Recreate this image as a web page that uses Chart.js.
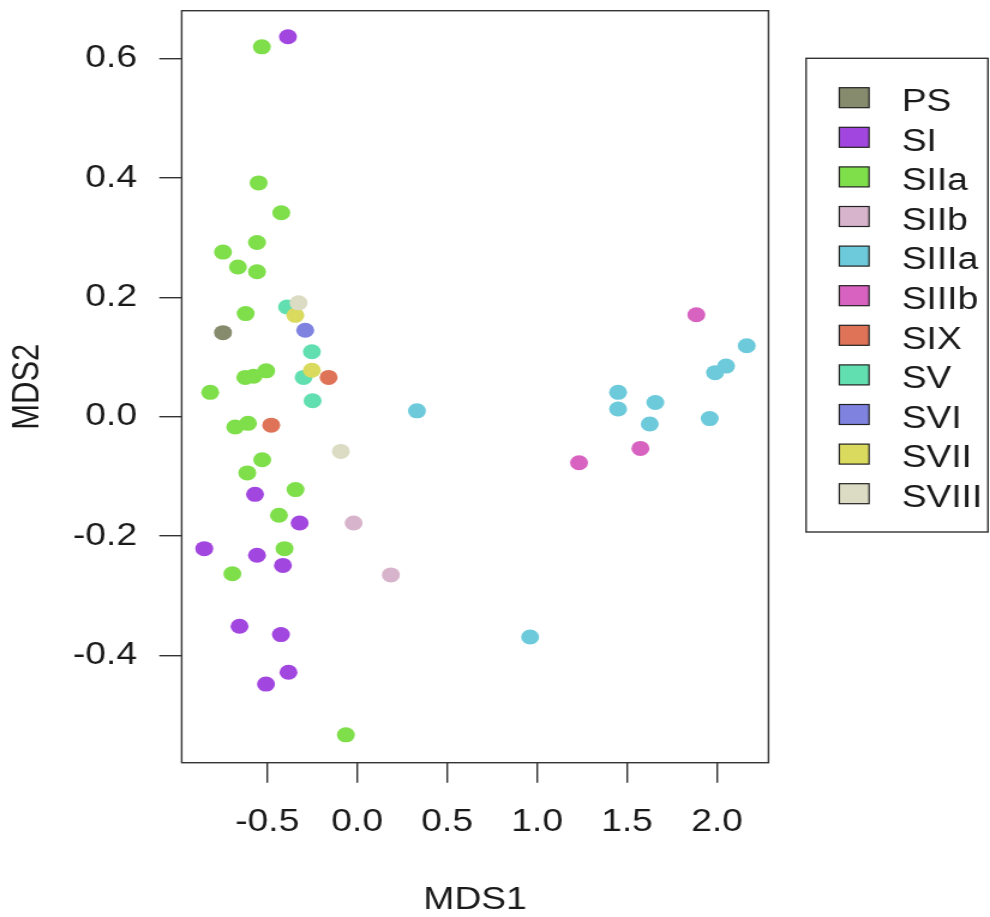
<!DOCTYPE html>
<html>
<head>
<meta charset="utf-8">
<script src="https://cdn.jsdelivr.net/npm/chart.js@4.4.0/dist/chart.umd.min.js"></script>
<style>
  html, body { margin: 0; padding: 0; background: #fff; overflow: hidden; }
  /* the plot is laid out narrow and stretched sideways, as the original device was */
  #wrap { width: 825px; height: 917px; transform: scaleX(1.2); transform-origin: 0 0; }
</style>
</head>
<body>
<div id="wrap"><canvas id="mds" width="825" height="917"></canvas></div>
<script>
// site groups, legend order
const groups = ['PS', 'SI', 'SIIa', 'SIIb', 'SIIIa', 'SIIIb', 'SIX', 'SV', 'SVI', 'SVII', 'SVIII'];
const groupColors = ['#878b6d', '#a246e0', '#7fdf4b', '#d8b4cc', '#6ccadb', '#d862c0',
                     '#de7357', '#62dfb0', '#7f83df', '#dada5e', '#dcdcc4'];

// [MDS1, MDS2] per sample
const PS = [[-0.746, 0.141]];
const SI = [[-0.385, 0.637], [-0.568, -0.130], [-0.320, -0.178], [-0.850, -0.221], [-0.557, -0.232],
            [-0.413, -0.249], [-0.654, -0.351], [-0.424, -0.365], [-0.382, -0.428], [-0.507, -0.448]];
const SIIa = [[-0.530, 0.620], [-0.548, 0.392], [-0.422, 0.342], [-0.557, 0.292], [-0.746, 0.276],
              [-0.663, 0.251], [-0.557, 0.243], [-0.620, 0.173], [-0.622, 0.066], [-0.576, 0.068],
              [-0.506, 0.077], [-0.817, 0.041], [-0.678, -0.017], [-0.607, -0.011], [-0.528, -0.072],
              [-0.611, -0.094], [-0.343, -0.122], [-0.435, -0.165], [-0.404, -0.221], [-0.694, -0.263],
              [-0.063, -0.533]];
const SIIb = [[-0.020, -0.178], [0.187, -0.265]];
const SIIIa = [[0.332, 0.010], [0.961, -0.369], [1.450, 0.041], [1.450, 0.013], [1.657, 0.024],
               [1.626, -0.012], [1.959, -0.003], [1.989, 0.074], [2.050, 0.085], [2.165, 0.119]];
const SIIIb = [[1.885, 0.171], [1.574, -0.053], [1.233, -0.077]];
const SIX = [[-0.159, 0.066], [-0.478, -0.014]];
const SV = [[-0.390, 0.184], [-0.252, 0.109], [-0.298, 0.066], [-0.248, 0.027]];
const SVI = [[-0.289, 0.145]];
const SVII = [[-0.344, 0.170], [-0.252, 0.078]];
const SVIII = [[-0.326, 0.191], [-0.091, -0.058]];
const groupPoints = [PS, SI, SIIa, SIIb, SIIIa, SIIIb, SIX, SV, SVI, SVII, SVIII];

const mds1Ticks = [-0.5, 0.0, 0.5, 1.0, 1.5, 2.0];
const mds2Ticks = [-0.4, -0.2, 0.0, 0.2, 0.4, 0.6];

const ink = '#1a1a1a';
const axisInk = '#333333';
const font = { family: "'Liberation Sans', Arial, sans-serif", size: 31 };

// box round the plot region plus the framed key on the right
const frameAndKey = {
    id: 'frameAndKey',
    afterDraw(chart) {
        const ctx = chart.ctx;
        const a = chart.chartArea;
        ctx.save();
        ctx.strokeStyle = axisInk;
        ctx.lineWidth = 1.4;
        ctx.strokeRect(a.left, a.top, a.right - a.left, a.bottom - a.top);

        // key
        const bx = 671.7, by = 58.3, bw = 151.6, bh = 473.7;
        ctx.strokeRect(bx, by, bw, bh);
        ctx.font = font.size + 'px ' + font.family;
        ctx.textAlign = 'left';
        ctx.textBaseline = 'alphabetic';
        chart.data.datasets.forEach((ds, i) => {
            const cy = 97.7 + i * 39.6;
            ctx.fillStyle = ds.backgroundColor;
            ctx.fillRect(699.4, cy - 10, 24.8, 20);
            ctx.lineWidth = 1.2;
            ctx.strokeStyle = '#222';
            ctx.strokeRect(699.4, cy - 10, 24.8, 20);
            ctx.fillStyle = ink;
            ctx.fillText(ds.label, 751.4, cy + 13.3);
        });
        ctx.restore();
    }
};

const datasets = groups.map((g, i) => ({
    label: g,
    data: groupPoints[i].map(p => ({ x: p[0], y: p[1] })),
    backgroundColor: groupColors[i],
    borderWidth: 0,
    pointRadius: 7.5,
    pointHoverRadius: 7.5,
    order: groups.length - i   // later groups are painted on top
}));

new Chart(document.getElementById('mds'), {
    type: 'scatter',
    data: { datasets: datasets },
    options: {
        responsive: false,
        animation: false,
        devicePixelRatio: 1,
        layout: { padding: { top: 10.7, right: 184.6, left: 0, bottom: 0 } },
        plugins: { legend: { display: false }, tooltip: { enabled: false } },
        scales: {
            x: {
                type: 'linear',
                min: -0.9755,
                max: 2.286,
                afterBuildTicks: s => { s.ticks = mds1Ticks.map(v => ({ value: v })); },
                afterFit: s => { s.height = 154.3; s.paddingLeft = 0; s.paddingRight = 0; },
                ticks: { callback: v => v.toFixed(1), font: font, color: ink, padding: 21, maxRotation: 0, autoSkip: false },
                grid: { display: true, drawOnChartArea: false, drawTicks: true, tickLength: 20, color: axisInk, lineWidth: 1.4 },
                border: { display: false },
                title: { display: true, text: 'MDS1', font: font, color: ink, padding: { top: 0, bottom: -2 } }
            },
            y: {
                type: 'linear',
                min: -0.5797,
                max: 0.6806,
                afterBuildTicks: s => { s.ticks = mds2Ticks.map(v => ({ value: v })); },
                afterFit: s => { s.width = 151.4; s.paddingTop = 0; s.paddingBottom = 0; },
                ticks: { callback: v => v.toFixed(1), font: font, color: ink, padding: 18.5, autoSkip: false },
                grid: { display: true, drawOnChartArea: false, drawTicks: true, tickLength: 18.7, color: axisInk, lineWidth: 1.4 },
                border: { display: false },
                title: { display: true, text: 'MDS2', font: font, color: ink, padding: { top: 4.7, bottom: 0 } }
            }
        }
    },
    plugins: [frameAndKey]
});
</script>
</body>
</html>
